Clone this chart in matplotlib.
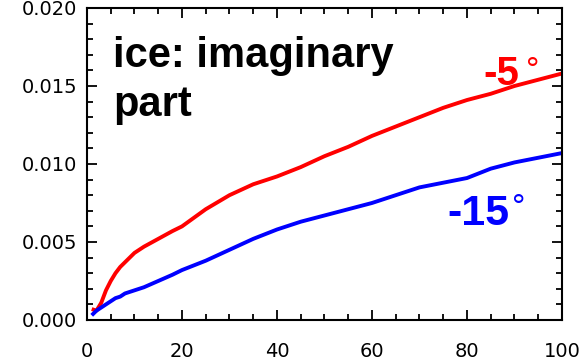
import matplotlib.pyplot as plt
from matplotlib.ticker import MultipleLocator

# wavelength-like axis (0..100) and imaginary part of ice index
x_vals = [1, 2, 3, 4, 5, 6, 7, 8, 10, 12, 15, 18, 20, 25, 30, 35, 40, 45,
          50, 55, 60, 65, 70, 75, 80, 85, 90, 95, 100]
minus5 = [0.0007, 0.0006, 0.0011, 0.0019, 0.0025, 0.0030, 0.0034, 0.0037,
          0.0043, 0.0047, 0.0052, 0.0057, 0.0060, 0.0071, 0.0080, 0.0087,
          0.0092, 0.0098, 0.0105, 0.0111, 0.0118, 0.0124, 0.0130, 0.0136,
          0.0141, 0.0145, 0.0150, 0.0154, 0.0158]
minus15 = [0.0003, 0.0006, 0.0008, 0.0010, 0.0012, 0.0014, 0.0015, 0.0017,
           0.0019, 0.0021, 0.0025, 0.0029, 0.0032, 0.0038, 0.0045, 0.0052,
           0.0058, 0.0063, 0.0067, 0.0071, 0.0075, 0.0080, 0.0085, 0.0088,
           0.0091, 0.0097, 0.0101, 0.0104, 0.0107]
xticks = [0, 20, 40, 60, 80, 100]
yticks = [0.000, 0.005, 0.010, 0.015, 0.020]
ytick_labels = ['0.000', '0.005', '0.010', '0.015', '0.020']

fig = plt.figure(figsize=(5.81, 3.61), dpi=100)
ax = fig.add_axes([0.1497, 0.1136, 0.8176, 0.8643])

ax.plot(x_vals, minus5, color='#ff0000', linewidth=2.8, solid_capstyle='butt')
ax.plot(x_vals, minus15, color='#0000ff', linewidth=2.8, solid_capstyle='butt')

ax.set_xlim(0, 100)
ax.set_ylim(0, 0.020)
ax.set_xticks(xticks)
ax.set_yticks(yticks)
ax.set_yticklabels(ytick_labels)
ax.xaxis.set_minor_locator(MultipleLocator(5))
ax.yaxis.set_minor_locator(MultipleLocator(0.001))
ax.tick_params(which='both', direction='in', top=True, right=True,
               width=1.3, color='black')
ax.tick_params(which='major', length=7)
ax.tick_params(which='minor', length=4)
ax.tick_params(axis='x', which='major', pad=16, labelsize=14)
ax.tick_params(axis='y', which='major', pad=7, labelsize=14)
for lab in ax.get_xticklabels() + ax.get_yticklabels():
    lab.set_family('DejaVu Sans')
for s in ax.spines.values():
    s.set_linewidth(1.5)

bold = dict(family='Liberation Sans', fontweight='bold')
ax.text(5.5, 0.0182, 'ice: imaginary\npart', fontsize=30, va='top',
        ha='left', linespacing=1.28, **bold)
ax.text(83.5, 0.01508, '-5', color='#ff0000', fontsize=29, ha='left',
        va='baseline', **bold)
ax.text(92.5, 0.0154, '°', color='#ff0000', fontsize=24, ha='left',
        va='baseline', family='Liberation Sans')
ax.text(75.8, 0.00606, '-15', color='#0000ff', fontsize=31, ha='left',
        va='baseline', **bold)
ax.text(89.5, 0.0066, '°', color='#0000ff', fontsize=24, ha='left',
        va='baseline', family='Liberation Sans')

fig.savefig('out.png', dpi=100)
